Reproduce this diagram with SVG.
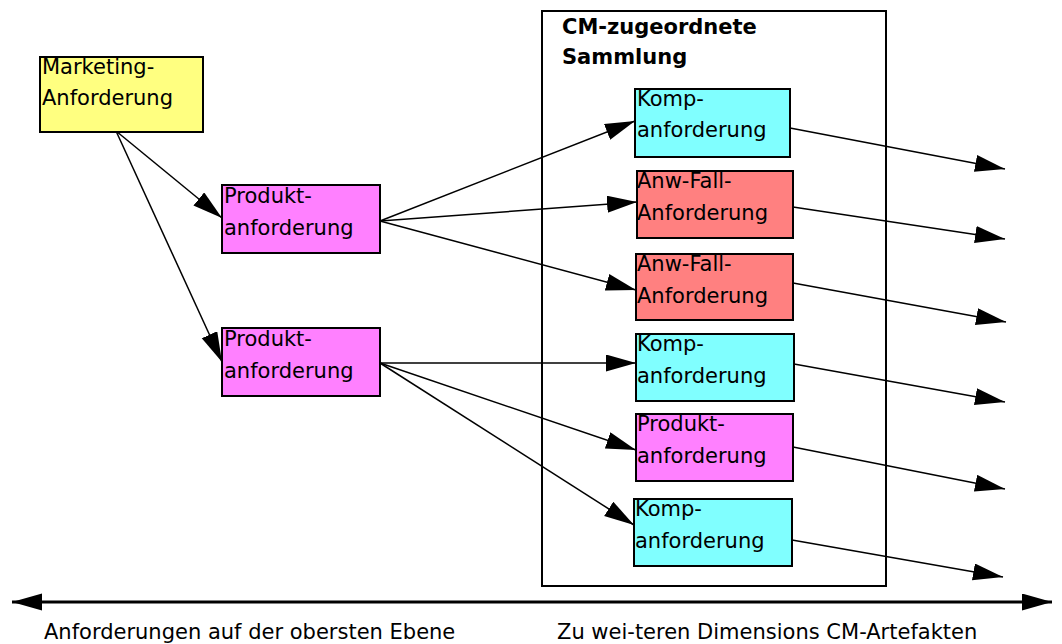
<svg xmlns="http://www.w3.org/2000/svg" width="1062" height="644" viewBox="0 0 1062 644">
<style>
  .box { stroke: #000; stroke-width: 2; }
  .y { fill: #FFFF80; }
  .m { fill: #FF80FF; }
  .c { fill: #80FFFF; }
  .r { fill: #FF8080; }
  .t { font-family: "DejaVu Sans", Verdana, sans-serif; font-size: 21px; fill: #000; }
  .title { font-family: "DejaVu Sans", Verdana, sans-serif; font-size: 21px; font-weight: bold; fill: #000; }
  .lbl { font-family: "DejaVu Sans", Verdana, sans-serif; font-size: 21px; fill: #000; }
  .conn { stroke: #000; stroke-width: 1.5; fill: none; marker-end: url(#ah); }
</style>
<defs>
  <marker id="ah" markerUnits="userSpaceOnUse" markerWidth="32" markerHeight="20" refX="30" refY="8.5" orient="auto">
    <path d="M0,0 L30,8.5 L0,17 z" fill="#000"/>
  </marker>
  <marker id="ah2" markerUnits="userSpaceOnUse" markerWidth="32" markerHeight="20" refX="30" refY="8.5" orient="auto-start-reverse">
    <path d="M0,0 L30,8.5 L0,17 z" fill="#000"/>
  </marker>
</defs>
<rect width="1062" height="644" fill="#fff"/>

<g id="cm-collection">
  <rect x="542" y="11" width="344" height="575" fill="none" stroke="#000" stroke-width="2"/>
  <text class="title" x="562" y="34">CM-zugeordnete</text>
  <text class="title" x="562" y="64">Sammlung</text>
</g>

<g id="connectors">
  <line class="conn" x1="116" y1="131" x2="222" y2="218"/>
  <line class="conn" x1="116" y1="131" x2="222" y2="362"/>
  <line class="conn" x1="380" y1="221" x2="635" y2="121"/>
  <line class="conn" x1="380" y1="221" x2="637" y2="202"/>
  <line class="conn" x1="380" y1="221" x2="636" y2="290"/>
  <line class="conn" x1="380" y1="363" x2="636" y2="363"/>
  <line class="conn" x1="380" y1="363" x2="636" y2="450"/>
  <line class="conn" x1="380" y1="363" x2="634" y2="525"/>
  <line class="conn" x1="790" y1="128" x2="1005" y2="169"/>
  <line class="conn" x1="793" y1="207" x2="1005" y2="239"/>
  <line class="conn" x1="793" y1="283" x2="1006" y2="322"/>
  <line class="conn" x1="794" y1="364" x2="1005" y2="402"/>
  <line class="conn" x1="793" y1="447" x2="1005" y2="489"/>
  <line class="conn" x1="792" y1="540" x2="1003" y2="577"/>
  <line x1="12" y1="602" x2="1052" y2="602" stroke="#000" stroke-width="3" marker-start="url(#ah2)" marker-end="url(#ah2)"/>
</g>

<g id="marketing">
  <rect class="box y" x="40" y="57" width="163" height="75"/>
  <text class="t" x="42" y="74">Marketing-</text>
  <text class="t" x="42" y="105">Anforderung</text>
</g>
<g id="produkt1">
  <rect class="box m" x="222" y="185" width="158" height="68"/>
  <text class="t" x="224" y="203">Produkt-</text>
  <text class="t" x="224" y="235">anforderung</text>
</g>
<g id="produkt2">
  <rect class="box m" x="222" y="328" width="158" height="68"/>
  <text class="t" x="224" y="346">Produkt-</text>
  <text class="t" x="224" y="378">anforderung</text>
</g>
<g id="komp1">
  <rect class="box c" x="635" y="89" width="155" height="68"/>
  <text class="t" x="637" y="106">Komp-</text>
  <text class="t" x="637" y="137">anforderung</text>
</g>
<g id="anw1">
  <rect class="box r" x="637" y="171" width="156" height="67"/>
  <text class="t" x="637" y="188">Anw-Fall-</text>
  <text class="t" x="637" y="220">Anforderung</text>
</g>
<g id="anw2">
  <rect class="box r" x="636" y="254" width="157" height="66"/>
  <text class="t" x="637" y="271">Anw-Fall-</text>
  <text class="t" x="637" y="303">Anforderung</text>
</g>
<g id="komp2">
  <rect class="box c" x="636" y="334" width="158" height="67"/>
  <text class="t" x="637" y="351">Komp-</text>
  <text class="t" x="637" y="383">anforderung</text>
</g>
<g id="produkt3">
  <rect class="box m" x="636" y="414" width="157" height="67"/>
  <text class="t" x="637" y="431">Produkt-</text>
  <text class="t" x="637" y="463">anforderung</text>
</g>
<g id="komp3">
  <rect class="box c" x="634" y="499" width="158" height="67"/>
  <text class="t" x="635" y="516">Komp-</text>
  <text class="t" x="635" y="548">anforderung</text>
</g>

<g id="axis-labels">
  <text class="lbl" x="44" y="639">Anforderungen auf der obersten Ebene</text>
  <text class="lbl" x="557" y="639">Zu wei-teren Dimensions CM-Artefakten</text>
</g>
</svg>
